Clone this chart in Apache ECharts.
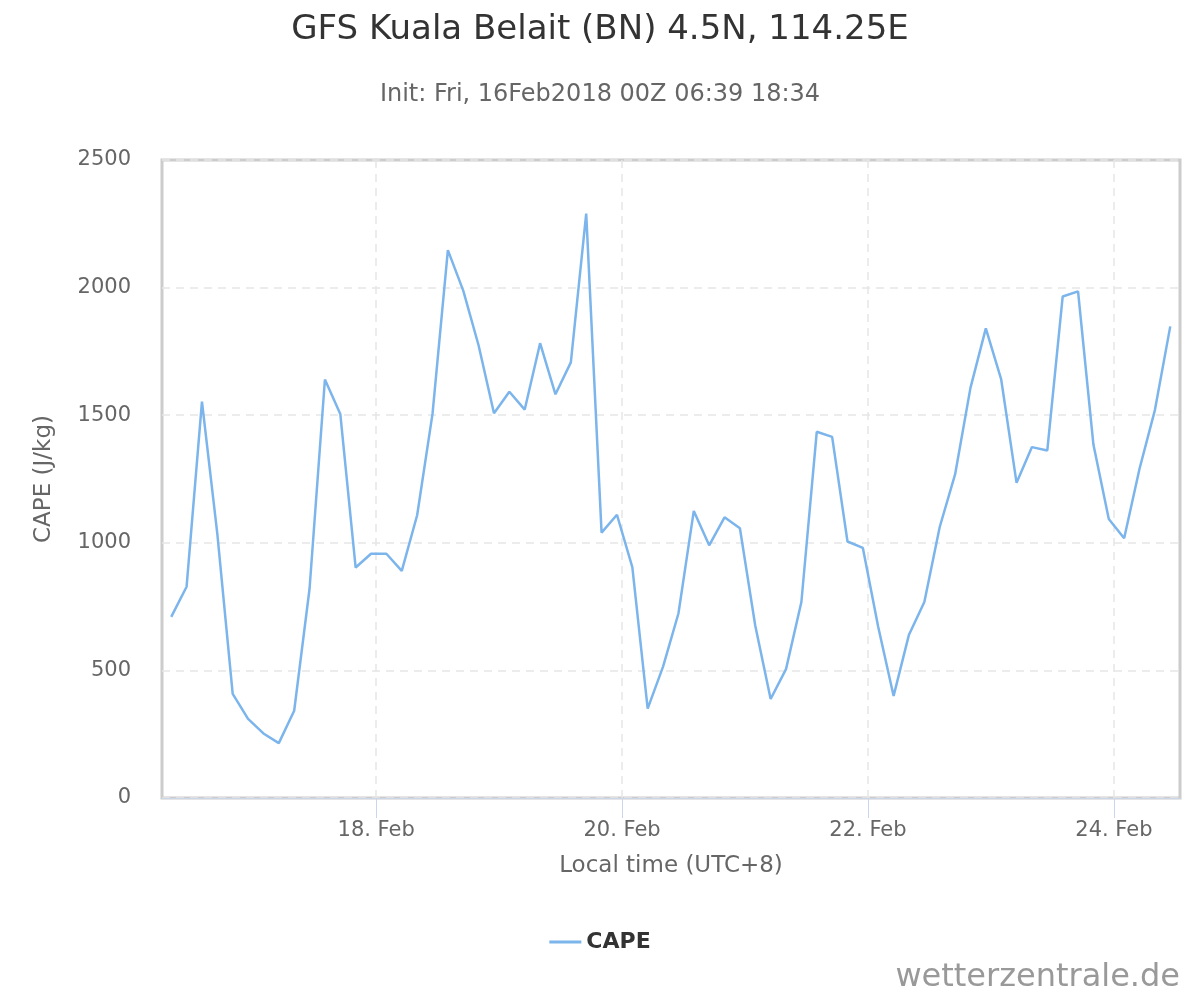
<!DOCTYPE html>
<html>
<head>
    <meta charset="utf-8"/>
    <title>GFS Kuala Belait CAPE</title>
    <script src="https://cdn.jsdelivr.net/npm/echarts@6/dist/echarts.min.js"></script>
    <style>
        html, body { margin: 0; padding: 0; background: #fff; }
        #main { width: 1200px; height: 1000px; }
    </style>
</head>
<body>
<div id="main"></div>
<script>
    // CAPE in J/kg, one value every 3 hours, first step 16 Feb 08:00 local (00Z)
    var capeValues = [
        710, 828, 1553, 1035, 408, 310, 253, 215, 342, 820,
        1640, 1505, 903, 957, 957, 890, 1108, 1505, 2147, 1988,
        1773, 1508, 1592, 1522, 1782, 1582, 1707, 2290, 1040, 1110,
        905, 350, 515, 723, 1125, 990, 1100, 1057, 675, 388,
        505, 768, 1435, 1415, 1005, 980, 670, 400, 640, 768,
        1062, 1268, 1607, 1840, 1640, 1235, 1375, 1362, 1965, 1985,
        1385, 1093, 1018, 1290, 1520, 1848
    ];
    var startHour = 8;   // hours after 16 Feb 00:00 local time
    var stepHours = 3;
    // x ticks, in hours after 16 Feb 00:00 local time
    var dayTicks = [48, 96, 144, 192];
    var dayLabels = ['18. Feb', '20. Feb', '22. Feb', '24. Feb'];

    var fontFam = "'DejaVu Sans', sans-serif";

    var seriesData = [];
    for (var i = 0; i < capeValues.length; i++) {
        seriesData.push([startHour + i * stepHours, capeValues[i]]);
    }

    var gridDash = {
        show: true,
        lineStyle: { color: '#e6e6e6', width: 1.5, type: [8, 6] }
    };

    var myChart = echarts.init(document.getElementById('main'));
    var option = {
        animation: false,
        textStyle: { fontFamily: fontFam },
        title: [{
            text: 'GFS Kuala Belait (BN) 4.5N, 114.25E',
            left: 'center',
            top: 8,
            textStyle: { fontSize: 34, fontWeight: 'normal', color: '#333333', fontFamily: fontFam }
        }, {
            text: 'Init: Fri, 16Feb2018 00Z 06:39 18:34',
            left: 'center',
            top: 78,
            textStyle: { fontSize: 24, fontWeight: 'normal', color: '#666666', fontFamily: fontFam }
        }],
        legend: {
            left: 'center',
            top: 926,
            icon: 'rect',
            itemWidth: 32,
            itemHeight: 3,
            itemGap: 10,
            textStyle: { fontSize: 22, fontWeight: 'bold', color: '#333333', fontFamily: fontFam },
            data: ['CAPE']
        },
        grid: {
            left: 162,
            right: 20,
            top: 160,
            bottom: 202,
            show: true,
            borderColor: '#cccccc',
            borderWidth: 3
        },
        xAxis: {
            type: 'value',
            min: 6.2,
            max: 204.9,
            name: 'Local time (UTC+8)',
            nameLocation: 'middle',
            nameGap: 57,
            nameTextStyle: { fontSize: 23, color: '#666666', fontFamily: fontFam },
            axisLine: { show: true, lineStyle: { color: '#ccd6eb', width: 1 } },
            axisTick: { show: true, customValues: dayTicks, length: 20, lineStyle: { color: '#ccd6eb' } },
            axisLabel: {
                customValues: dayTicks,
                margin: 22,
                fontSize: 21,
                color: '#666666',
                formatter: function (v) {
                    var k = dayTicks.indexOf(v);
                    return k >= 0 ? dayLabels[k] : '';
                }
            },
            splitLine: gridDash
        },
        yAxis: {
            type: 'value',
            min: 0,
            max: 2500,
            interval: 500,
            name: 'CAPE (J/kg)',
            nameLocation: 'middle',
            nameGap: 106,
            nameTextStyle: { fontSize: 23, color: '#666666', fontFamily: fontFam },
            axisLine: { show: false },
            axisTick: { show: false },
            axisLabel: {
                margin: 31,
                fontSize: 21,
                color: '#666666',
                formatter: function (v) { return String(v); }
            },
            splitLine: gridDash
        },
        graphic: [{
            type: 'text',
            right: 20,
            bottom: 6,
            style: {
                text: 'wetterzentrale.de',
                fontSize: 32,
                fontFamily: fontFam,
                fill: '#999999'
            }
        }],
        series: [{
            name: 'CAPE',
            type: 'line',
            data: seriesData,
            showSymbol: false,
            color: '#7cb5ec',
            lineStyle: { color: '#7cb5ec', width: 2.5 }
        }]
    };
    myChart.setOption(option);
</script>
</body>
</html>
